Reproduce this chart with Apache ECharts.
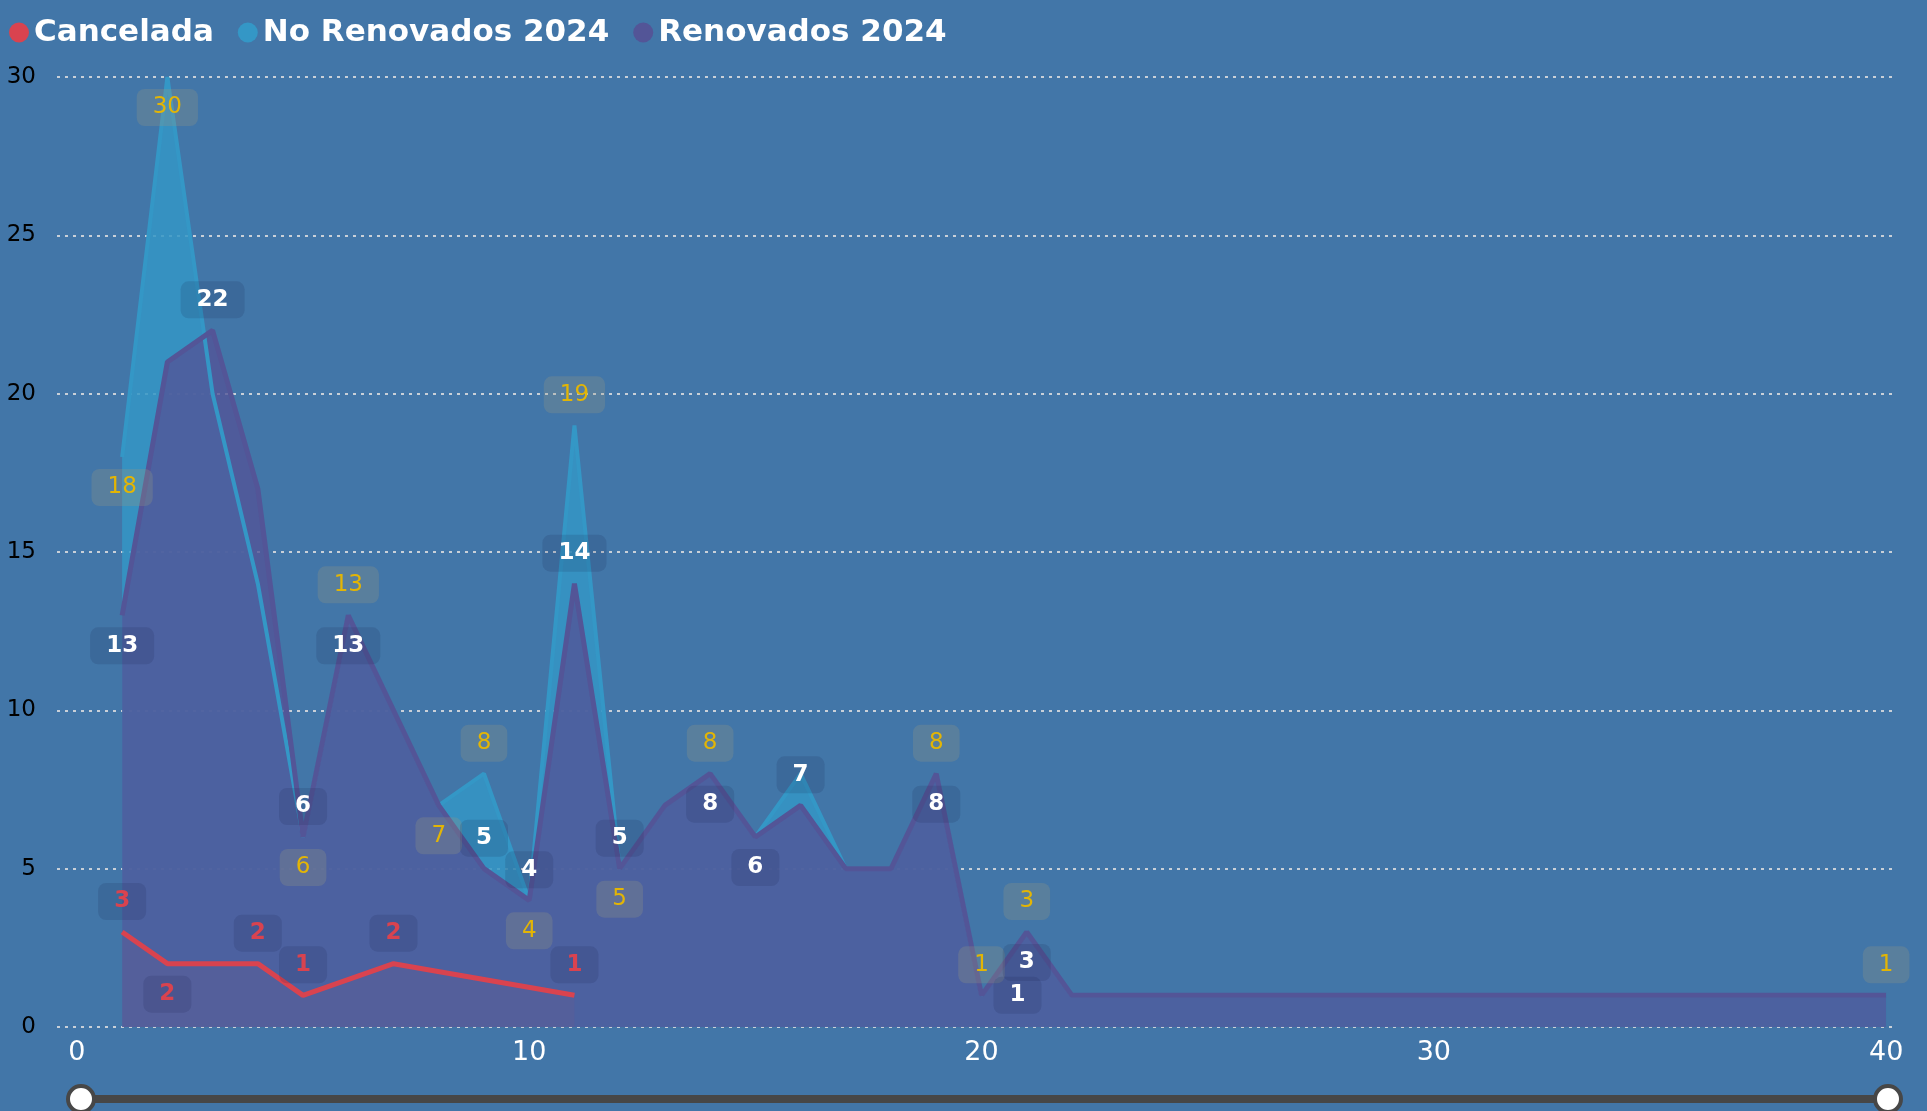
<!DOCTYPE html>
<html>
<head>
<meta charset="utf-8">
<title>Renovaciones 2024</title>
<script src="https://cdn.jsdelivr.net/npm/echarts@6/dist/echarts.min.js"></script>
<style>
  html, body { margin: 0; padding: 0; background: #4276a8; }
  #main { width: 1927px; height: 1111px; }
</style>
</head>
<body>
<div id="main"></div>
<script>
// datos
const cancelDias = [1, 2, 3, 4, 5, 7, 11];
const cancelValores = [3, 2, 2, 2, 1, 2, 1];

const noRenovDias = [1, 2, 3, 4, 5, 6, 8, 9, 10, 11, 12, 13, 14, 15, 16, 17, 18, 19, 20, 21, 22, 40];
const noRenovValores = [18, 30, 20, 14, 6, 13, 7, 8, 4, 19, 5, 7, 8, 6, 8, 5, 5, 8, 1, 3, 1, 1];

const renovDias = [1, 2, 3, 4, 5, 6, 8, 9, 10, 11, 12, 13, 14, 15, 16, 17, 18, 19, 20, 21, 22, 40];
const renovValores = [13, 21, 22, 17, 6, 13, 7, 5, 4, 14, 5, 7, 8, 6, 7, 5, 5, 8, 1, 3, 1, 1];

const xTicks = [0, 10, 20, 30, 40];

// etiquetas visibles (las demas quedan ocultas) y su lado
const cancelEtiq = { 1: 'top', 2: 'bottom', 4: 'top', 5: 'top', 7: 'top', 11: 'top' };
const noRenovEtiq = { 1: 'bottom', 2: 'bottom', 5: 'bottom', 6: 'top', 8: 'bottom', 9: 'top', 10: 'bottom',
  11: 'top', 12: 'bottom', 14: 'top', 19: 'top', 20: 'top', 21: 'top', 40: 'top' };
const renovEtiq = { 1: 'bottom', 3: 'top', 5: 'top', 6: 'bottom', 9: 'top', 10: 'top', 11: 'top', 12: 'top',
  14: 'bottom', 15: 'bottom', 16: 'top', 19: 'bottom', 20: 'right', 21: 'bottom' };

const FONT = 'DejaVu Sans';
const ROJO = '#d9434f', CIAN = '#3497c6', MORADO = '#535597';

function puntos(dias, valores, etiq) {
  return dias.map((d, i) => {
    const item = { value: [d, valores[i]] };
    if (etiq[d]) item.label = { show: true, position: etiq[d] };
    return item;
  });
}

function etiqueta(color, bold, fondo) {
  return {
    show: false,
    color: color,
    fontFamily: FONT,
    fontSize: 23,
    fontWeight: bold ? 'bold' : 'normal',
    backgroundColor: fondo,
    borderRadius: 8,
    padding: [7, 16]
  };
}

const chart = echarts.init(document.getElementById('main'));
chart.setOption({
  backgroundColor: '#4276a8',
  animation: false,
  legend: {
    left: 4,
    top: 12,
    icon: 'circle',
    itemWidth: 20,
    itemHeight: 20,
    itemGap: 24,
    textStyle: { color: '#fff', fontFamily: FONT, fontSize: 31, fontWeight: 'bold' },
    data: [
      { name: 'Cancelada', itemStyle: { color: ROJO } },
      { name: 'No Renovados 2024', itemStyle: { color: CIAN } },
      { name: 'Renovados 2024', itemStyle: { color: MORADO } }
    ]
  },
  grid: { left: 57, right: 30, top: 77, bottom: 84 },
  xAxis: {
    type: 'value',
    min: -0.44,
    max: 40.24,
    axisLine: { show: false },
    axisTick: { show: false },
    splitLine: { show: false },
    axisLabel: { customValues: xTicks, color: '#fff', fontFamily: FONT, fontSize: 27, margin: 12 }
  },
  yAxis: {
    type: 'value',
    min: 0,
    max: 30,
    interval: 5,
    axisLine: { show: false },
    axisTick: { show: false },
    axisLabel: { color: '#000', fontFamily: FONT, fontSize: 23, margin: 21 },
    splitLine: { lineStyle: { color: 'rgba(225,225,225,0.85)', width: 2, type: [3, 5] } }
  },
  dataZoom: [{
    type: 'slider',
    xAxisIndex: 0,
    left: 77,
    right: 41,
    top: 1095,
    height: 8,
    start: 0,
    end: 100,
    showDetail: false,
    showDataShadow: false,
    brushSelect: false,
    moveHandleSize: 0,
    backgroundColor: '#474747',
    fillerColor: '#474747',
    borderColor: 'transparent',
    handleIcon: 'circle',
    handleSize: 26,
    handleStyle: { color: '#fff', borderColor: '#474747', borderWidth: 4 }
  }],
  series: [
    {
      name: 'No Renovados 2024',
      type: 'line',
      symbol: 'circle',
      symbolSize: 14,
      itemStyle: { color: 'rgba(0,0,0,0)', borderWidth: 0 },
      lineStyle: { color: CIAN, width: 4 },
      areaStyle: { color: CIAN, opacity: 0.85 },
      label: etiqueta('#e3b505', false, 'rgba(150,150,130,0.28)'),
      emphasis: { disabled: true },
      data: puntos(noRenovDias, noRenovValores, noRenovEtiq)
    },
    {
      name: 'Renovados 2024',
      type: 'line',
      symbol: 'circle',
      symbolSize: 14,
      itemStyle: { color: 'rgba(0,0,0,0)', borderWidth: 0 },
      lineStyle: { color: MORADO, width: 5 },
      areaStyle: { color: MORADO, opacity: 0.8 },
      label: etiqueta('#fff', true, 'rgba(20,30,70,0.14)'),
      emphasis: { disabled: true },
      data: puntos(renovDias, renovValores, renovEtiq)
    },
    {
      name: 'Cancelada',
      type: 'line',
      symbol: 'circle',
      symbolSize: 14,
      itemStyle: { color: 'rgba(0,0,0,0)', borderWidth: 0 },
      lineStyle: { color: ROJO, width: 5 },
      areaStyle: { color: ROJO, opacity: 0.06 },
      label: etiqueta(ROJO, true, 'rgba(20,30,70,0.14)'),
      emphasis: { disabled: true },
      data: puntos(cancelDias, cancelValores, cancelEtiq)
    }
  ]
});
</script>
</body>
</html>
